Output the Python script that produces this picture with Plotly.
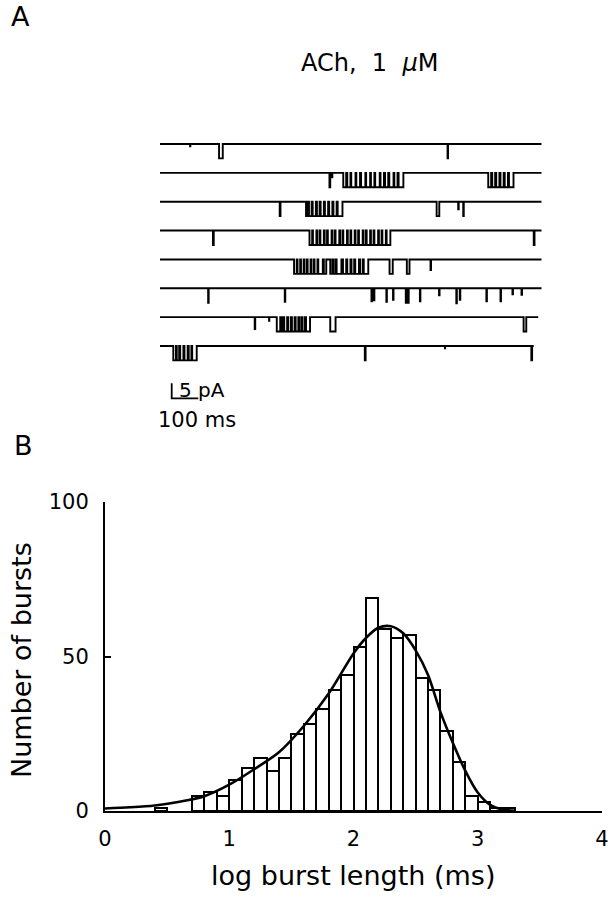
import plotly.graph_objects as go

W, H = 613, 900
FONT = "DejaVu Sans"

# ---------------- Panel B: burst-length histogram ----------------
bin_left = [0.4, 0.7, 0.8, 0.9, 1.0, 1.1, 1.2, 1.3, 1.4, 1.5, 1.6, 1.7, 1.8, 1.9,
            2.0, 2.1, 2.2, 2.3, 2.4, 2.5, 2.6, 2.7, 2.8, 2.9, 3.0, 3.1, 3.2]
bin_counts = [1, 5, 6, 5, 10, 14, 17, 13, 17, 25, 28, 33, 39, 44,
              53, 69, 59, 56, 57, 43, 39, 26, 16, 5, 3, 1, 1]
BIN_WIDTH = 0.1

fit_x = [0.0, 0.2, 0.4, 0.6, 0.8, 1.0, 1.2, 1.4, 1.6, 1.8, 2.0, 2.1, 2.2, 2.3,
         2.4, 2.5, 2.6, 2.7, 2.8, 2.9, 3.0, 3.1, 3.2, 3.3]
fit_y = [0.8, 1.2, 1.8, 3.0, 4.8, 8.5, 13.5, 19.0, 27.5, 38.0, 51.0, 56.0, 59.3, 59.8,
         57.5, 52.0, 44.0, 32.0, 22.0, 13.0, 6.0, 2.0, 0.5, 0.1]

x_tick_vals = [0, 1, 2, 3, 4]
y_tick_vals = [0, 50, 100]
x_title = "log burst length (ms)"
y_title = "Number of bursts"

# ---------------- Panel A: single-channel records ----------------
# each opening: (start ms, end ms, amplitude pA)
rec1 = [(113, 114, 0.8), (222, 236, 4.8), (1081, 1083, 4.8)]
rec2 = [(637, 640, 4.8), (646, 648, 1.5),
        (689, 700, 4.8), (704, 716, 4.8), (719, 735, 4.8), (738, 752, 4.8), (756, 772, 4.8),
        (775, 790, 4.8), (793, 806, 4.8), (809, 826, 4.8), (829, 842, 4.8), (846, 858, 4.8),
        (862, 878, 4.8), (881, 893, 4.8), (897, 915, 4.8),
        (1234, 1245, 4.8), (1249, 1260, 4.8), (1264, 1276, 4.8), (1280, 1292, 4.8),
        (1296, 1308, 4.8), (1312, 1329, 4.8)]
rec3 = [(450, 453, 4.8),
        (549, 556, 4.8), (560, 570, 4.8), (574, 586, 4.8), (590, 600, 4.8), (604, 616, 4.8),
        (620, 632, 4.8), (636, 648, 4.8), (652, 664, 4.8), (668, 686, 4.8),
        (1040, 1050, 4.8), (1121, 1123, 2.5), (1140, 1142, 4.8)]
rec4 = [(199, 202, 4.8),
        (562, 572, 4.8), (575, 588, 4.8), (591, 600, 4.8), (603, 616, 4.8), (619, 628, 4.8),
        (631, 645, 4.8), (648, 657, 4.8), (660, 674, 4.8), (677, 686, 4.8), (689, 703, 4.8),
        (706, 716, 4.8), (719, 732, 4.8), (735, 745, 4.8), (748, 762, 4.8), (765, 774, 4.8),
        (777, 790, 4.8), (793, 803, 4.8), (806, 820, 4.8), (823, 833, 4.8), (836, 849, 4.8),
        (852, 866, 4.8),
        (1405, 1408, 4.8)]
rec5 = [(504, 514, 4.8), (517, 527, 4.8), (530, 540, 4.8), (543, 552, 4.8), (555, 566, 4.8),
        (569, 578, 4.8), (581, 592, 4.8), (595, 612, 4.8), (616, 625, 4.8), (640, 648, 4.8),
        (652, 660, 4.8), (664, 682, 4.8), (688, 700, 4.8), (704, 716, 4.8), (720, 730, 4.8),
        (734, 748, 4.8), (752, 762, 4.8), (766, 783, 4.8),
        (863, 875, 4.8), (928, 938, 4.8), (1017, 1019, 3.5)]
rec6 = [(181, 183, 4.8), (469, 471, 4.5), (795, 797, 4.3), (804, 806, 4.0), (851, 853, 4.5),
        (876, 878, 3.8), (924, 926, 4.8), (933, 935, 4.8), (977, 979, 4.3), (1049, 1051, 2.3),
        (1114, 1116, 5.0), (1127, 1129, 3.8), (1227, 1229, 4.3), (1280, 1282, 4.3),
        (1325, 1327, 2.0), (1359, 1361, 2.2)]
rec7 = [(356, 358, 4.0), (410, 411, 1.2),
        (439, 452, 4.8), (456, 463, 4.8), (467, 478, 4.8), (482, 492, 4.8), (496, 506, 4.8),
        (510, 520, 4.8), (524, 532, 4.8), (536, 545, 4.8), (549, 564, 4.8),
        (640, 660, 4.8), (1367, 1377, 4.8)]
rec8 = [(50, 60, 4.8), (63, 72, 4.8), (76, 88, 4.8), (92, 104, 4.8), (108, 118, 4.8),
        (121, 138, 4.8), (770, 773, 4.8), (1071, 1072, 0.8), (1396, 1399, 4.8)]
records = [rec1, rec2, rec3, rec4, rec5, rec6, rec7, rec8]
record_lengths = [1435, 1435, 1435, 1435, 1435, 1435, 1422, 1405]

scale_time_ms = 100
scale_current_pA = 5
title_A = "ACh,\u00a0\u00a01\u00a0\u00a0<i>\u03bc</i>M"

# ---------------- layout helpers (window pixels -> paper) ----------------
def px_x(p):
    return p / W

def px_y(p):
    return 1 - p / H

# panel A axis mapping: 3 px per pA, baseline of record 1 at y=0 (pixel 144)
A_TOP_PX, A_BOT_PX, BASE1_PX = 130, 410, 144
PX_PER_PA = 3.0
REC_SPACING = 202 / 7 / PX_PER_PA
a_y_top = (BASE1_PX - A_TOP_PX) / PX_PER_PA
a_y_bot = a_y_top - (A_BOT_PX - A_TOP_PX) / PX_PER_PA

fig = go.Figure()

# histogram bars
centers = [b + BIN_WIDTH / 2 for b in bin_left]
fig.add_trace(go.Bar(x=centers, y=bin_counts, width=BIN_WIDTH,
                     marker=dict(color="white", line=dict(color="black", width=2)),
                     xaxis="x", yaxis="y", showlegend=False, hoverinfo="skip"))
fig.add_trace(go.Scatter(x=fit_x, y=fit_y, mode="lines",
                         line=dict(color="black", width=2.6, shape="spline", smoothing=0.8),
                         xaxis="x", yaxis="y", showlegend=False, hoverinfo="skip"))

# single-channel records
for i, (ev, length) in enumerate(zip(records, record_lengths)):
    base = -i * REC_SPACING
    xs, ys = [0], [base]
    for s, e, a in ev:
        xs += [s, s, e, e]
        ys += [base, base - a, base - a, base]
    xs.append(length)
    ys.append(base)
    fig.add_trace(go.Scatter(x=xs, y=ys, mode="lines",
                             line=dict(color="black", width=1.9),
                             xaxis="x2", yaxis="y2", showlegend=False, hoverinfo="skip"))

# scale bar
sb_t0 = 44
sb_base = (BASE1_PX - 398.3) / PX_PER_PA
fig.add_trace(go.Scatter(x=[sb_t0, sb_t0, sb_t0 + scale_time_ms],
                         y=[sb_base + scale_current_pA, sb_base, sb_base],
                         mode="lines", line=dict(color="black", width=1.8),
                         xaxis="x2", yaxis="y2", showlegend=False, hoverinfo="skip"))

axis_common = dict(showline=True, linecolor="black", linewidth=2, ticks="inside",
                   ticklen=6, tickwidth=2, tickcolor="black", showgrid=False,
                   zeroline=False, tickfont=dict(family=FONT, size=21, color="black"),
                   fixedrange=True, automargin=False)

fig.update_layout(
    template="none",
    width=W, height=H, margin=dict(l=0, r=0, t=0, b=0, autoexpand=False),
    paper_bgcolor="white", plot_bgcolor="rgba(0,0,0,0)",
    bargap=0, showlegend=False,
    xaxis=dict(domain=[px_x(105), px_x(602)], range=[0, 4], anchor="y",
               tickvals=x_tick_vals, ticktext=[str(v) for v in x_tick_vals],
               ticklabelstandoff=8, **axis_common),
    yaxis=dict(domain=[px_y(811), px_y(502)], range=[0, 100], anchor="x",
               tickvals=y_tick_vals, ticktext=[str(v) for v in y_tick_vals],
               ticklabelstandoff=10, **axis_common),
    xaxis2=dict(domain=[px_x(160), px_x(541.7)], range=[0, 1435], anchor="y2",
                visible=False, fixedrange=True, automargin=False),
    yaxis2=dict(domain=[px_y(A_BOT_PX), px_y(A_TOP_PX)], range=[a_y_bot, a_y_top],
                anchor="x2", visible=False, fixedrange=True, automargin=False),
)

def ann(text, xp, yp, size, xanchor="center", yanchor="middle", angle=0):
    fig.add_annotation(text=text, x=px_x(xp), y=px_y(yp), xref="paper", yref="paper",
                       showarrow=False, xanchor=xanchor, yanchor=yanchor, textangle=angle,
                       font=dict(family=FONT, size=size, color="black"))

ann("A", 20, 17, 27)
ann("B", 24, 445, 27)
ann(title_A, 369, 63, 24)
ann("5\u00a0pA", 177, 390, 20, xanchor="left")
ann("100\u00a0ms", 197, 420, 21)
ann(x_title, 353, 875, 27)
ann(y_title, 21, 660, 27, angle=-90)

# let the figure start at the window corner (no default body margin)
fig.write_html("out.html", config={"displayModeBar": False},
               post_script="document.body.style.margin='0';document.body.style.overflow='hidden';")
